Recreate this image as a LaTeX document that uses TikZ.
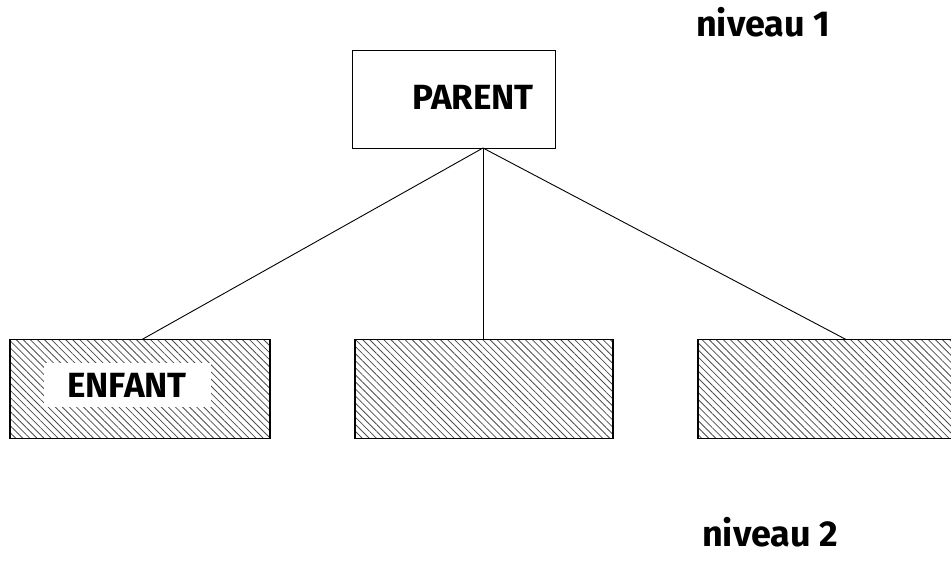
\documentclass[tikz,border=0pt]{standalone}
\usepackage{fontspec}
\setmainfont{Fira Sans}
\usetikzlibrary{patterns.meta}
\begin{document}
\begin{tikzpicture}[x=1pt,y=-1pt,
  lbl/.style={font=\bfseries\fontsize{35}{37}\selectfont, inner sep=0pt},
  nlbl/.style={font=\bfseries\fontsize{36}{38}\selectfont, inner sep=0pt},
  parentbox/.style={draw, line width=1pt, minimum width=203pt, minimum height=98pt, inner sep=0pt},
  childbox/.style={draw, line width=1.2pt, minimum width=260pt, minimum height=99pt, inner sep=0pt,
    pattern={Lines[angle=-45, distance=5pt, line width=0.8pt]}, pattern color=black!70},
  whitelbl/.style={fill=white, minimum width=167pt, minimum height=44pt, inner sep=0pt,
    font=\bfseries\fontsize{35}{37}\selectfont},
  link/.style={line width=0.9pt}]
\useasboundingbox (0,0) rectangle (951,571);
\node[parentbox] (parent) at (454,99) {};
\node[lbl] (ptext) at (473,97) {PARENT};
\node[childbox] (c1) at (140,389) {};
\node[childbox, minimum width=258pt] (c2) at (484,389) {};
\node[childbox] (c3) at (828,389) {};
\node[whitelbl] (etext) at (127,385) {ENFANT};
\node[nlbl, anchor=west] (n1) at (696,22) {niveau 1};
\node[nlbl, anchor=west] (n2) at (702,532) {niveau 2};
\coordinate (hub) at (483,148);
\coordinate (t1) at (142,339.5);
\coordinate (t3) at (846,339.5);
\draw[link] (hub) -- (t1);
\draw[link] (hub) -- (c2.north -| hub);
\draw[link] (hub) -- (t3);
\end{tikzpicture}
\end{document}
